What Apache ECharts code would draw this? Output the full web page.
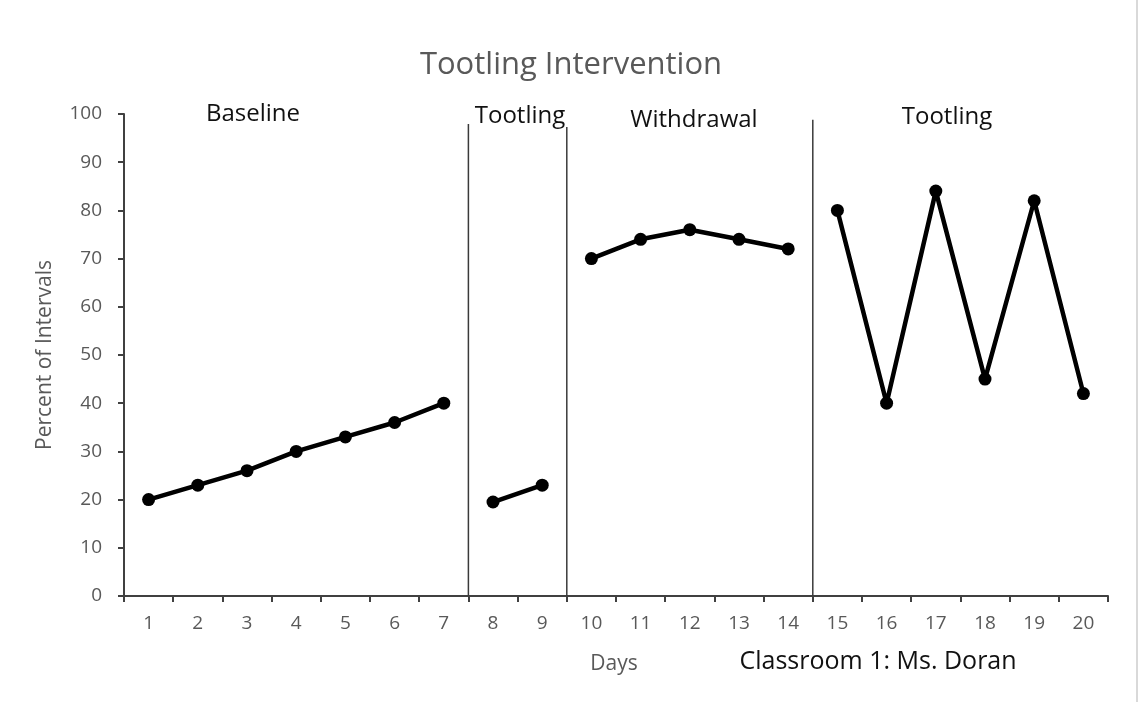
<!DOCTYPE html>
<html><head><meta charset="utf-8">
<script src="https://cdn.jsdelivr.net/npm/echarts@6/dist/echarts.min.js"></script>
<style>html,body{margin:0;padding:0;background:#fff}#c{width:1140px;height:702px}</style>
</head><body><div id="c"></div>
<script>
const days = ['1','2','3','4','5','6','7','8','9','10','11','12','13','14','15','16','17','18','19','20'];
const yTicks = [0,10,20,30,40,50,60,70,80,90,100];
const baselineDays = [1,2,3,4,5,6,7];
const baselineVals = [20,23,26,30,33,36,40];
const tootling1Days = [8,9];
const tootling1Vals = [19.5,23];
const withdrawalDays = [10,11,12,13,14];
const withdrawalVals = [70,74,76,74,72];
const tootling2Days = [15,16,17,18,19,20];
const tootling2Vals = [80,40,84,45,82,42];
const phaseLinePos = [7.5, 9.5, 14.5];
const phaseLineTop = [97.9, 97.3, 98.8];
const phaseNames = ['Baseline','Tootling','Withdrawal','Tootling'];
const phaseNameX = [253, 520, 694, 947];
const phaseNameY = [114, 116, 120, 117];

const font = '"Open Sans", Lato, sans-serif';
function pairs(d, v){ return d.map((x,i)=>[String(x), v[i]]); }
function phaseSeries(d, v){
  return {type:'line', xAxisIndex:0, data:pairs(d,v), symbol:'circle', symbolSize:13,
    lineStyle:{color:'#000', width:4.5}, itemStyle:{color:'#000'}, silent:true, animation:false};
}
const series = [
  phaseSeries(baselineDays, baselineVals),
  phaseSeries(tootling1Days, tootling1Vals),
  phaseSeries(withdrawalDays, withdrawalVals),
  phaseSeries(tootling2Days, tootling2Vals)
];
phaseLinePos.forEach((p,i)=>{
  series.push({type:'line', xAxisIndex:1, data:[[p,0],[p,phaseLineTop[i]]], symbol:'none',
    lineStyle:{color:'#3a3a3a', width:1.5}, silent:true, animation:false});
});
const graphics = phaseNames.map((n,i)=>({type:'text', x:phaseNameX[i], y:phaseNameY[i],
  style:{text:n, font:'24px '+font, fill:'#111', textAlign:'center', textVerticalAlign:'middle'}}));
graphics.push({type:'text', x:614, y:664, style:{text:'Days', font:'21px '+font, fill:'#595959', textAlign:'center', textVerticalAlign:'middle'}});
graphics.push({type:'text', x:878, y:662, style:{text:'Classroom 1: Ms. Doran', font:'25px '+font, fill:'#111', textAlign:'center', textVerticalAlign:'middle'}});
graphics.push({type:'line', shape:{x1:1137, y1:0, x2:1137, y2:702}, style:{stroke:'#d9d9d9', lineWidth:2}});

const chart = echarts.init(document.getElementById('c'));
chart.setOption({
  animation:false,
  backgroundColor:'#fff',
  title:{text:'Tootling Intervention', left:566, top:45, textAlign:'center',
    textStyle:{fontFamily:font, fontSize:31, fontWeight:'normal', color:'#595959'}},
  grid:{left:124, right:32, top:114, bottom:106},
  xAxis:[
    {type:'category', data:days, boundaryGap:true,
     axisLine:{lineStyle:{color:'#404040', width:2}},
     axisTick:{show:true, length:6, inside:false, lineStyle:{color:'#404040', width:2}},
     axisLabel:{color:'#595959', fontSize:19, fontFamily:font, margin:18, interval:0},
     splitLine:{show:false}},
    {type:'value', min:0.5, max:20.5, show:false}
  ],
  yAxis:{type:'value', min:0, max:100, interval:10,
    name:'Percent of Intervals', nameLocation:'middle', nameGap:68,
    nameTextStyle:{color:'#595959', fontSize:21, fontFamily:font},
    axisLine:{show:true, lineStyle:{color:'#404040', width:2}},
    axisTick:{show:true, length:6, lineStyle:{color:'#404040', width:2}},
    axisLabel:{color:'#595959', fontSize:19, fontFamily:font, margin:22,
      formatter:v=> yTicks.includes(v) ? String(v) : ''},
    splitLine:{show:false}},
  graphic:graphics,
  series:series
});
</script></body></html>
